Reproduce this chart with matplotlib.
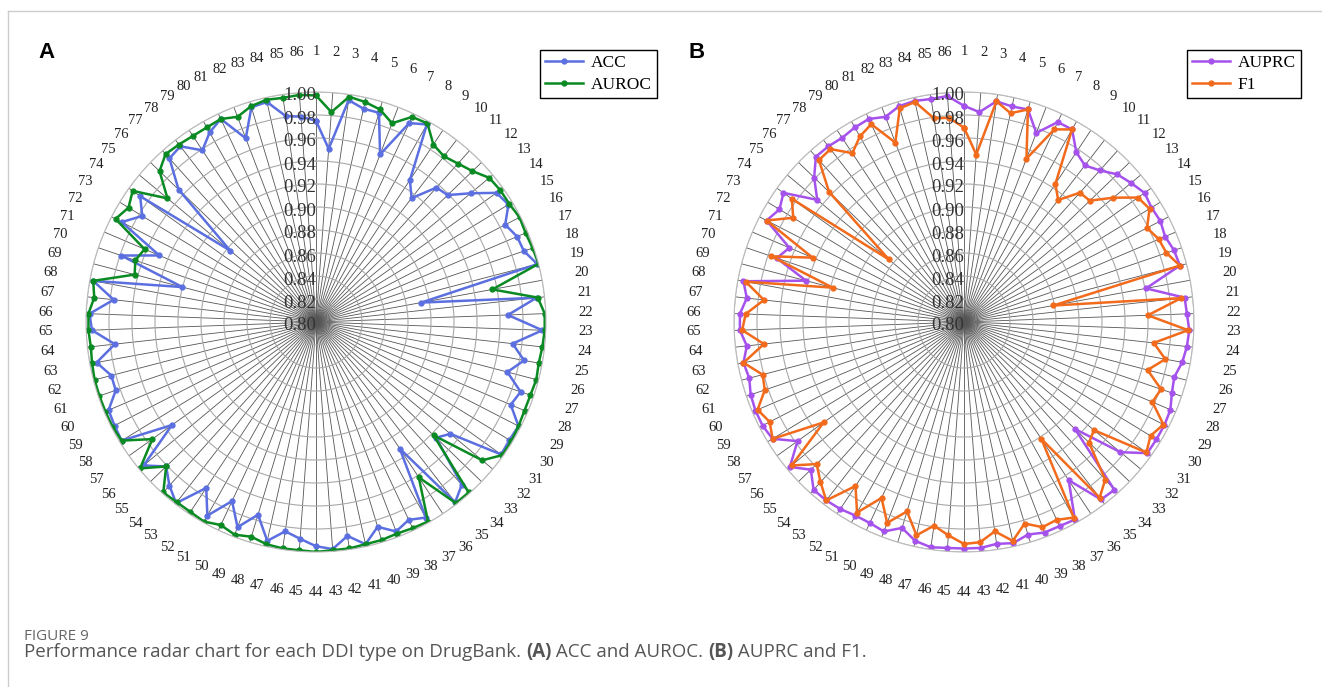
import numpy as np
import matplotlib
matplotlib.use("Agg")
import matplotlib.pyplot as plt
from matplotlib.lines import Line2D
from matplotlib.transforms import offset_copy

# category ids (DDI types) and the four metrics
types = list(range(1, 87))

acc = [0.975, 0.951, 0.995, 0.990, 0.990, 0.956, 0.991, 0.997, 0.948, 0.936,
       0.957, 0.959, 0.975, 0.993, 0.996, 0.985, 0.990, 0.991, 0.999, 0.893,
       0.993, 0.967, 0.997, 0.972, 0.984, 0.972, 0.988, 0.984, 0.998, 0.997,
       0.998, 0.952, 0.945, 0.990, 0.998, 0.932, 0.995, 0.990, 0.995, 0.986,
       0.998, 0.988, 0.998, 0.995, 0.989, 0.984, 0.995, 0.975, 0.991, 0.972,
       0.993, 0.973, 0.999, 0.991, 0.981, 0.995, 0.954, 0.998, 0.997, 0.996,
       0.984, 0.984, 0.994, 0.976, 0.995, 0.997, 0.977, 0.997, 0.920, 0.979,
       0.948, 0.990, 0.977, 0.988, 0.897, 0.966, 0.991, 0.993, 0.979, 0.989,
       0.995, 0.971, 0.995, 0.996, 0.981, 0.979]

auroc = [0.997, 0.983, 0.998, 0.996, 0.993, 0.985, 0.997, 0.998, 0.985, 0.982,
         0.985, 0.989, 0.996, 0.997, 0.997, 0.999, 0.998, 0.999, 1.000, 0.956,
         0.994, 0.999, 0.999, 0.998, 0.997, 0.998, 0.997, 0.997, 0.998, 0.999,
         0.999, 0.988, 0.942, 0.999, 0.999, 0.962, 0.999, 0.998, 0.997, 0.998,
         0.998, 0.999, 0.999, 1.000, 0.999, 0.999, 0.998, 0.995, 0.998, 0.995,
         0.999, 0.998, 0.998, 0.999, 0.981, 0.999, 0.975, 0.998, 0.999, 0.999,
         0.999, 0.999, 0.998, 0.997, 0.998, 0.998, 0.994, 0.997, 0.963, 0.966,
         0.962, 0.996, 0.991, 0.996, 0.968, 0.989, 0.996, 0.995, 0.994, 0.994,
         0.995, 0.991, 0.996, 0.998, 0.997, 0.998]

auprc = [0.988, 0.983, 0.994, 0.992, 0.993, 0.976, 0.992, 0.992, 0.977, 0.972,
         0.977, 0.985, 0.989, 0.993, 0.991, 0.992, 0.990, 0.993, 0.994, 0.961,
         0.993, 0.994, 0.996, 0.995, 0.993, 0.989, 0.991, 0.995, 0.996, 0.996,
         0.996, 0.977, 0.934, 0.996, 0.995, 0.965, 0.997, 0.996, 0.996, 0.993,
         0.997, 0.995, 0.997, 0.997, 0.997, 0.998, 0.995, 0.987, 0.995, 0.993,
         0.993, 0.995, 0.996, 0.996, 0.985, 0.997, 0.978, 0.995, 0.997, 0.997,
         0.996, 0.993, 0.995, 0.990, 0.995, 0.995, 0.990, 0.995, 0.942, 0.972,
         0.965, 0.993, 0.988, 0.993, 0.966, 0.981, 0.993, 0.993, 0.992, 0.994,
         0.995, 0.991, 0.996, 0.997, 0.996, 0.997]

f1 = [0.969, 0.946, 0.994, 0.986, 0.993, 0.952, 0.985, 0.992, 0.944, 0.934,
      0.951, 0.952, 0.969, 0.986, 0.989, 0.979, 0.984, 0.986, 0.994, 0.879,
      0.990, 0.960, 0.995, 0.966, 0.978, 0.965, 0.981, 0.978, 0.995, 0.990,
      0.995, 0.947, 0.951, 0.984, 0.993, 0.922, 0.995, 0.990, 0.991, 0.983,
      0.995, 0.984, 0.992, 0.993, 0.986, 0.979, 0.990, 0.972, 0.987, 0.969,
      0.990, 0.971, 0.996, 0.987, 0.978, 0.995, 0.950, 0.995, 0.990, 0.995,
      0.983, 0.981, 0.995, 0.975, 0.993, 0.990, 0.975, 0.993, 0.918, 0.977,
      0.943, 0.993, 0.974, 0.984, 0.885, 0.963, 0.989, 0.990, 0.976, 0.985,
      0.990, 0.967, 0.994, 0.996, 0.979, 0.978]

r_ticks = [0.80, 0.82, 0.84, 0.86, 0.88, 0.90, 0.92, 0.94, 0.96, 0.98, 1.00]

SERIF = "Liberation Serif"
W, H = 1322, 687


def radar(ax, series, labels, colors):
    n = len(types)
    theta = np.arange(n) * 2 * np.pi / n
    ax.set_theta_offset(np.pi / 2)
    ax.set_theta_direction(-1)
    ax.set_ylim(0.80, 1.00)
    ax.set_xticks(theta)
    ax.set_xticklabels([])
    ax.set_yticks(r_ticks)
    ax.set_yticklabels([])
    ax.xaxis.grid(True, color="#555555", lw=0.6)
    ax.yaxis.grid(True, color="#a8a8a8", lw=0.8)
    ax.spines["polar"].set_color("#bbbbbb")
    ax.spines["polar"].set_linewidth(0.8)
    ax.set_facecolor("white")

    th = np.append(theta, theta[0])
    handles = []
    for vals, lab, col in zip(series, labels, colors):
        v = np.append(vals, vals[0])
        h, = ax.plot(th, v, "-o", color=col, lw=1.8, ms=3.5, label=lab)
        handles.append(h)

    for t, k in zip(theta, types):
        ax.text(t, 1.035, str(k), ha="center", va="center",
                family=SERIF, fontsize=10.5, color="#222222")

    tr = offset_copy(ax.transData, fig=ax.figure, x=-16, y=-4, units="dots")
    for r in r_ticks:
        ax.text(0, r, "%.2f" % r, transform=tr, ha="center", va="center",
                family=SERIF, fontsize=13.5, color="#333333")
    return handles


fig = plt.figure(figsize=(W / 100, H / 100), dpi=100)

R = 230
for cx, series, labels, colors, leg_x, tag, tag_x in [
        (316, [acc, auroc], ["ACC", "AUROC"], ["#5b6fe0", "#0a8a22"], 540, "A", 38),
        (964, [auprc, f1], ["AUPRC", "F1"], ["#a552ec", "#f26a1b"], 1187, "B", 688)]:
    cy = 322
    ax = fig.add_axes([(cx - R) / W, 1 - (cy + R) / H, 2 * R / W, 2 * R / H],
                      projection="polar")
    hs = radar(ax, series, labels, colors)
    ax.legend(handles=hs, loc="upper left",
              bbox_to_anchor=(leg_x / W, 1 - 50 / H), bbox_transform=fig.transFigure,
              fancybox=False, edgecolor="black", framealpha=1,
              prop={"family": SERIF, "size": 12.5}, handlelength=2.2,
              borderpad=0.3, labelspacing=0.3, handletextpad=0.4,
              borderaxespad=0)
    fig.text(tag_x / W, 1 - 52 / H, tag, fontsize=16, fontweight="bold",
             family="Liberation Sans", va="center", ha="left")

# thin frame of the figure page
fig.add_artist(Line2D([8 / W, 8 / W], [0, 1 - 11 / H], transform=fig.transFigure,
                      color="#cccccc", lw=1))
fig.add_artist(Line2D([8 / W, 1], [1 - 11 / H, 1 - 11 / H], transform=fig.transFigure,
                      color="#cccccc", lw=1))

# caption, pieces chained left to right so (A) and (B) can be bold
fig.text(24 / W, 1 - 637 / H, "FIGURE 9", fontsize=11, color="#666666",
         family="Open Sans", va="center", ha="left")
parts = [("Performance radar chart for each DDI type on DrugBank. ", "normal"),
         ("(A)", "bold"), (" ACC and AUROC. ", "normal"),
         ("(B)", "bold"), (" AUPRC and F1.", "normal")]
renderer = fig.canvas.get_renderer()
x = 24
for txt, wt in parts:
    t = fig.text(x / W, 1 - 657 / H, txt, fontsize=13.5, color="#555555",
                 family="Open Sans", fontweight=wt, va="baseline", ha="left")
    x = t.get_window_extent(renderer).x1

fig.savefig("out.png", dpi=100)
